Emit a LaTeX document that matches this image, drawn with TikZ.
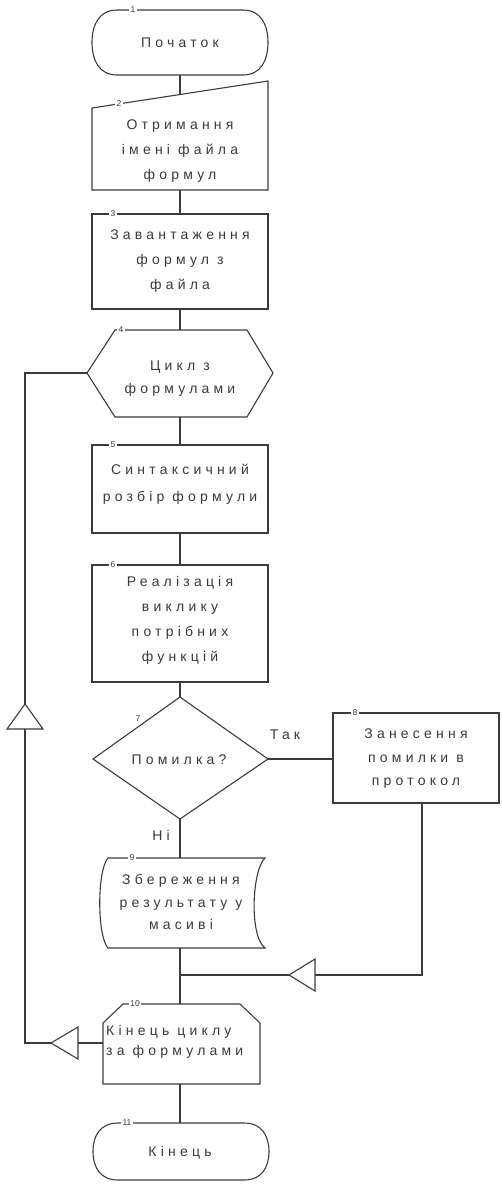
\documentclass[tikz,border=0pt]{standalone}
\usepackage{fontspec}
\setmainfont{Liberation Sans}[LetterSpace=30]
\newfontfamily\numfont{Liberation Sans}
\definecolor{linec}{HTML}{3C3C3C}
\definecolor{textc}{HTML}{3A3A3A}
\begin{document}
\begin{tikzpicture}[x=1pt,y=-1pt,
 shp/.style={draw=linec, line width=1.1pt, fill=white},
 con/.style={draw=linec, line width=1.1pt},
 txt/.style={text=textc, align=center, font=\fontsize{14}{25}\selectfont, inner sep=0pt},
 num/.style={fill=white, inner sep=1.5pt, font=\numfont\fontsize{8.5}{8.5}\selectfont, text=textc},
 opentri/.style={draw=linec, line width=1.1pt, fill=white, line join=miter},
 lbl/.style={text=textc, font=\fontsize{14}{14}\selectfont, inner sep=0pt}]
\useasboundingbox (0,0) rectangle (501,1184);
\fill[white] (0,0) rectangle (501,1184);
% anchor coordinates
\coordinate (b1s) at (180,75);
\coordinate (b2n) at (180,94.5);
\coordinate (b2s) at (180,190);
\coordinate (b3n) at (180,214);
\coordinate (b3s) at (180,309);
\coordinate (b4n) at (180,330);
\coordinate (b4s) at (180,417);
\coordinate (b4w) at (87,373);
\coordinate (b5n) at (180,445);
\coordinate (b5s) at (180,533);
\coordinate (b6n) at (180,565);
\coordinate (b6s) at (180,682);
\coordinate (b7n) at (180,697);
\coordinate (b7e) at (268,759);
\coordinate (b7s) at (180,819);
\coordinate (b8w) at (333,759);
\coordinate (b8s) at (422,803);
\coordinate (b9n) at (180,858);
\coordinate (b9s) at (180,948);
\coordinate (b10n) at (180,1004);
\coordinate (b10w) at (103,1043);
\coordinate (b10s) at (180,1084);
\coordinate (b11n) at (180,1123);
\coordinate (j1) at (180,975);
\coordinate (c8) at (422,975);
\coordinate (l1) at (25,1043);
\coordinate (l2) at (25,373);
% connectors
\draw[con] (b1s) -- (b2n);
\draw[con] (b2s) -- (b3n);
\draw[con] (b3s) -- (b4n);
\draw[con] (b4s) -- (b5n);
\draw[con] (b5s) -- (b6n);
\draw[con] (b6s) -- (b7n);
\draw[con] (b7e) -- (b8w);
\draw[con] (b7s) -- (b9n);
\draw[con] (b9s) -- (b10n);
\draw[con] (b8s) -- (c8) -- (j1);
\draw[con] (b10w) -- (l1) -- (l2) -- (b4w);
\draw[con] (b10s) -- (b11n);
% open arrow triangles
\draw[opentri] (289,975) -- (315,959) -- (315,991) -- cycle;
\draw[opentri] (51,1043) -- (78,1027) -- (78,1059) -- cycle;
\draw[opentri] (25,704) -- (7,729) -- (43,729) -- cycle;
% 1 terminator
\draw[shp] (117,10) -- (243,10) .. controls (261,10) and (268,25) .. (268,42.5) .. controls (268,60) and (261,75) .. (243,75) -- (117,75) .. controls (99,75) and (92,60) .. (92,42.5) .. controls (92,25) and (99,10) .. (117,10) -- cycle;
\node[txt] (t1) at (180,43) {Початок};
\node[num] (n1) at (133,10) {1};
% 2 manual input
\draw[shp] (92,108) -- (268,81) -- (268,190) -- (92,190) -- cycle;
\node[txt] (t2) at (180,151) {Отримання\\імені файла\\формул};
\node[num] (n2) at (119,104) {2};
% 3 process
\draw[shp] (92,214) rectangle (268,309);
\node[txt] (t3) at (180,261) {Завантаження\\формул з\\файла};
\node[num] (n3) at (113,214) {3};
% 4 loop start
\draw[shp] (115,330) -- (247,330) -- (273,373) -- (247,417) -- (115,417) -- (87,373) -- cycle;
\node[txt, font=\fontsize{14}{23}\selectfont] (t4) at (180,379) {Цикл з\\формулами};
\node[num] (n4) at (121,330) {4};
% 5 process
\draw[shp] (92,445) rectangle (268,533);
\node[txt, font=\fontsize{14}{27}\selectfont] (t5) at (180,484) {Синтаксичний\\розбір формули};
\node[num] (n5) at (113,445) {5};
% 6 process
\draw[shp] (92,565) rectangle (268,682);
\node[txt] (t6) at (180,620) {Реалізація\\виклику\\потрібних\\функцій};
\node[num] (n6) at (113,565) {6};
% 7 decision
\draw[shp] (180,697) -- (268,759) -- (180,819) -- (93,759) -- cycle;
\node[txt] (t7) at (179,760) {Помилка?};
\node[num] (n7) at (138,719) {7};
\node[lbl] (yes) at (285,735) {Так};
\node[lbl] (no) at (161,835) {Ні};
% 8 process
\draw[shp] (333,713) rectangle (499,803);
\node[txt, font=\fontsize{14}{23.5}\selectfont] (t8) at (416,759) {Занесення\\помилки в\\протокол};
\node[num] (n8) at (355,713) {8};
% 9 stored data
\draw[shp] (108,858) -- (265,858) .. controls (252,870) and (249,936) .. (265,948) -- (108,948) .. controls (97,936) and (97,870) .. (108,858) -- cycle;
\node[txt, font=\fontsize{14}{22.5}\selectfont] (t9) at (181,902) {Збереження\\результату у\\масиві};
\node[num] (n9) at (132,858) {9};
% 10 loop end
\draw[shp] (123,1004) -- (240,1004) -- (260,1023) -- (260,1084) -- (103,1084) -- (103,1023) -- cycle;
\node[txt, align=left, anchor=west, font=\fontsize{14}{20}\selectfont] (t10) at (106,1042) {Кінець циклу\\за формулами};
\node[num] (n10) at (135,1004) {10};
% 11 terminator
\draw[shp] (118,1123) -- (244,1123) .. controls (262,1123) and (269,1136) .. (269,1151.5) .. controls (269,1167) and (262,1180) .. (244,1180) -- (118,1180) .. controls (100,1180) and (93,1167) .. (93,1151.5) .. controls (93,1136) and (100,1123) .. (118,1123) -- cycle;
\node[txt] (t11) at (180,1153) {Кінець};
\node[num] (n11) at (127,1123) {11};
\end{tikzpicture}
\end{document}
